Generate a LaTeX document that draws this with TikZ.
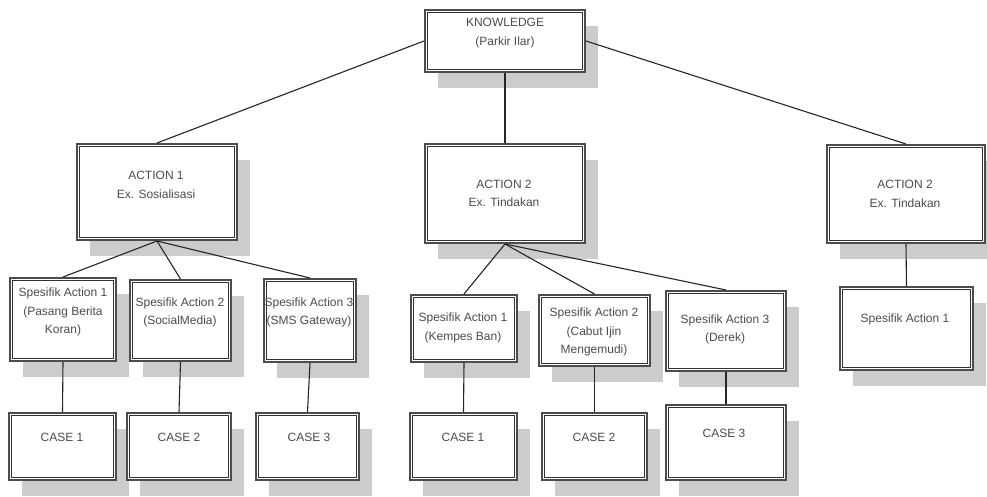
\documentclass[tikz,border=0pt]{standalone}
\usepackage{fontspec}
\setmainfont{Liberation Sans}
\usetikzlibrary{shadows}
% framed box with an inner rule: name, centre x, centre y, width, height
\newcommand\mkbox[5]{%
  \node[box, minimum width=#4pt, minimum height=#5pt] (#1) at (#2,#3) {};
  \draw[innerrule] ([shift={(3.3pt,-3.3pt)}]#1.north west) rectangle ([shift={(-3.3pt,3.3pt)}]#1.south east);
}
\begin{document}
\begin{tikzpicture}[x=1pt,y=-1pt,
  box/.style={rectangle, draw=black!70, line width=2pt, fill=white, inner sep=0pt,
    drop shadow={shadow xshift=13pt, shadow yshift=-16pt, fill=black!20, opacity=1}},
  innerrule/.style={draw=black!80, line width=1pt},
  lbl/.style={font=\fontsize{12}{18.5}\selectfont, text=black!70, align=center, inner sep=0pt},
  link/.style={draw=black!85, line width=1.1pt}]
\useasboundingbox[fill=white] (0,0) rectangle (987,497);

% top level
\mkbox{K}{505}{41}{160}{62}
% actions
\mkbox{Aone}{157}{192}{160}{96}
\mkbox{Atwo}{505}{193.5}{160}{99}
\mkbox{Athree}{906}{194}{158}{98}
% specific actions
\mkbox{SAa}{63}{319.5}{106}{83}
\mkbox{SAb}{180.5}{320.5}{101}{81}
\mkbox{SAc}{310}{320.5}{92}{83}
\mkbox{SBa}{464}{328.5}{106}{67}
\mkbox{SBb}{594.5}{330.5}{111}{71}
\mkbox{SBc}{726}{331}{120}{80}
\mkbox{SCa}{906.5}{328.5}{133}{83}
% cases
\mkbox{CAa}{62.5}{446.5}{107}{67}
\mkbox{CAb}{179}{446.5}{104}{67}
\mkbox{CAc}{307.5}{446.5}{103}{67}
\mkbox{CBa}{463.5}{446.5}{107}{67}
\mkbox{CBb}{594.5}{446.5}{105}{67}
\mkbox{CBc}{726}{442.5}{120}{75}

% texts
\node[lbl] (tK) at (505,33) {KNOWLEDGE\\(Parkir Ilar)};
\node[lbl] (tAone) at (156,185) {ACTION 1\\Ex. Sosialisasi};
\node[lbl] (tAtwo) at (504,193.5) {ACTION 2\\Ex. Tindakan};
\node[lbl] (tAthree) at (905,194) {ACTION 2\\Ex. Tindakan};
\node[lbl] (tSAa) at (63,312) {Spesifik Action 1\\(Pasang Berita\\Koran)};
\node[lbl] (tSAb) at (180,312.5) {Spesifik Action 2\\(SocialMedia)};
\node[lbl] (tSAc) at (309,312.5) {Spesifik Action 3\\(SMS Gateway)};
\node[lbl] (tSBa) at (463,328) {Spesifik Action 1\\(Kempes Ban)};
\node[lbl] (tSBb) at (594,332) {Spesifik Action 2\\(Cabut Ijin\\Mengemudi)};
\node[lbl] (tSBc) at (725,329.5) {Spesifik Action 3\\(Derek)};
\node[lbl] (tSCa) at (905,319.5) {Spesifik Action 1};
\node[lbl] (tCAa) at (62,437.5) {CASE 1};
\node[lbl] (tCAb) at (179,437.5) {CASE 2};
\node[lbl] (tCAc) at (309,437.5) {CASE 3};
\node[lbl] (tCBa) at (463,437.5) {CASE 1};
\node[lbl] (tCBb) at (594,437.5) {CASE 2};
\node[lbl] (tCBc) at (724,433) {CASE 3};

% connectors
\draw[link] (K.west) -- (Aone.north);
\draw[link] (K.south) -- (Atwo.north);
\draw[link] (K.east) -- (Athree.north);
\draw[link] (Aone.south) -- (SAa.north);
\draw[link] (Aone.south) -- (SAb.north);
\draw[link] (Aone.south) -- (SAc.north);
\draw[link] (Atwo.south) -- (SBa.north);
\draw[link] (Atwo.south) -- (SBb.north);
\draw[link] (Atwo.south) -- (SBc.north);
\draw[link] (Athree.south) -- (SCa.north);
\draw[link] (SAa.south) -- (CAa.north);
\draw[link] (SAb.south) -- (CAb.north);
\draw[link] (SAc.south) -- (CAc.north);
\draw[link] (SBa.south) -- (CBa.north);
\draw[link] (SBb.south) -- (CBb.north);
\draw[link] (SBc.south) -- (CBc.north);
\end{tikzpicture}
\end{document}
